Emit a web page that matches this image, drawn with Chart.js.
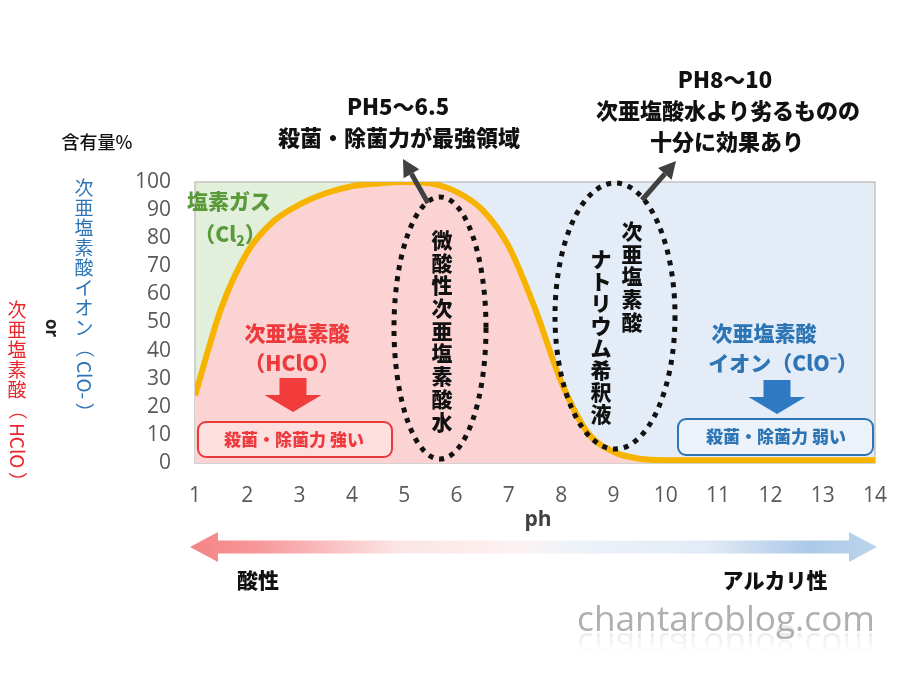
<!DOCTYPE html>
<html>
<head>
<meta charset="utf-8">
<script src="https://cdn.jsdelivr.net/npm/chart.js@4.4.1/dist/chart.umd.min.js"></script>
<style>
  body { margin: 0; background: #fff; }
  #chartSpace { width: 900px; height: 700px; }
</style>
</head>
<body>
<div id="chartSpace"><canvas id="c" width="900" height="700"></canvas></div>
<script>
// values
const phValues    = [1, 1.5, 2, 2.5, 3, 3.5, 4, 4.5, 5, 5.5, 6, 6.5, 7, 7.5, 8, 8.5, 9, 9.5, 10, 11, 12, 13, 14];
const hcloPercent = [24, 55, 75, 86, 92, 96, 98.5, 99.5, 100, 99.5, 96.5, 90, 77, 55, 29, 11, 4, 1.5, 1, 1, 1, 1, 1];
const cl2Zone = [1, 5];     // 塩素ガス side (above curve)
const cloZone = [5, 14];    // 次亜塩素酸イオン side (above curve)
const zoneTop = 100;

const JP = '"Noto Sans CJK JP", sans-serif';
const NUM = '"Open Sans", sans-serif';
const HEAVY = '900 ';

function toPoints(xs, ys) {
  return xs.map((x, i) => ({ x: x, y: Array.isArray(ys) ? ys[i] : ys }));
}

// vertical text: CJK upright, latin runs and brackets turned 90deg
function drawVertical(ctx, text, x, y, pitch) {
  let cy = y;
  const runs = text.match(/[\x21-\x7e\u207b]+|./g);
  ctx.textAlign = 'center';
  ctx.textBaseline = 'middle';
  runs.forEach(r => {
    if (/^[\x21-\x7e\u207b（）]/.test(r)) {
      const len = (r === '（' || r === '）') ? pitch : ctx.measureText(r).width + 6;
      ctx.save();
      ctx.translate(x, cy - pitch / 2 + len / 2);
      ctx.rotate(Math.PI / 2);
      ctx.fillText(r, 0, 0);
      ctx.restore();
      cy += len;
    } else {
      ctx.fillText(r, x, cy);
      cy += pitch;
    }
  });
}

function lineArrow(ctx, x1, y1, x2, y2, color) {
  const a = Math.atan2(y2 - y1, x2 - x1);
  const head = 17, hw = 9;
  const bx = x2 - Math.cos(a) * head, by = y2 - Math.sin(a) * head;
  ctx.strokeStyle = color;
  ctx.fillStyle = color;
  ctx.lineWidth = 5;
  ctx.beginPath();
  ctx.moveTo(x1, y1);
  ctx.lineTo(bx, by);
  ctx.stroke();
  ctx.beginPath();
  ctx.moveTo(x2, y2);
  ctx.lineTo(bx + Math.sin(a) * hw, by - Math.cos(a) * hw);
  ctx.lineTo(bx - Math.sin(a) * hw, by + Math.cos(a) * hw);
  ctx.closePath();
  ctx.fill();
}

function blockDown(ctx, cx, top, color) {
  const sw = 27, sh = 17, hw = 57, hh = 17;
  ctx.fillStyle = color;
  ctx.beginPath();
  ctx.moveTo(cx - sw / 2, top);
  ctx.lineTo(cx + sw / 2, top);
  ctx.lineTo(cx + sw / 2, top + sh);
  ctx.lineTo(cx + hw / 2, top + sh);
  ctx.lineTo(cx, top + sh + hh);
  ctx.lineTo(cx - hw / 2, top + sh);
  ctx.lineTo(cx - sw / 2, top + sh);
  ctx.closePath();
  ctx.fill();
}

function dottedEllipse(ctx, cx, cy, rx, ry) {
  ctx.save();
  ctx.strokeStyle = '#111';
  ctx.lineWidth = 5;
  ctx.setLineDash([5, 6]);
  ctx.beginPath();
  ctx.ellipse(cx, cy, rx, ry, 0, 0, Math.PI * 2);
  ctx.stroke();
  ctx.restore();
}

function box(ctx, x, y, w, h, stroke, fill) {
  ctx.beginPath();
  ctx.roundRect(x, y, w, h, 8);
  ctx.fillStyle = fill;
  ctx.fill();
  ctx.lineWidth = 2;
  ctx.strokeStyle = stroke;
  ctx.stroke();
}

function text(ctx, str, x, y, font, color) {
  ctx.font = font;
  ctx.fillStyle = color;
  ctx.textAlign = 'center';
  ctx.textBaseline = 'middle';
  ctx.fillText(str, x, y);
}

const frame = {
  id: 'frame',
  afterDatasetDraw(chart, args) {
    if (args.index !== 1) return;
    const a = chart.chartArea, ctx = chart.ctx;
    ctx.save();
    ctx.strokeStyle = '#c4c4c4';
    ctx.lineWidth = 1.5;
    ctx.strokeRect(a.left, a.top, a.right - a.left, a.bottom - a.top);
    ctx.restore();
  }
};

const notes = {
  id: 'notes',
  afterDraw(chart) {
    const ctx = chart.ctx;
    ctx.save();

    // axis captions
    text(ctx, '含有量%', 97, 142, '500 18px ' + JP, '#111');
    ctx.font = '19px ' + JP;
    ctx.fillStyle = '#2e75b6';
    drawVertical(ctx, '次亜塩素酸イオン（ClO-）', 84, 188, 20);
    ctx.fillStyle = '#e8262d';
    drawVertical(ctx, '次亜塩素酸（HClO）', 17, 310, 20);
    ctx.save();
    ctx.translate(51, 328);
    ctx.rotate(Math.PI / 2);
    text(ctx, 'or', 0, 0, 'bold 17px ' + NUM, '#222');
    ctx.restore();
    text(ctx, 'ph', 538, 520, 'bold 21px ' + NUM, '#404040');

    // 塩素ガス
    const green = '#5a9a3a';
    text(ctx, '塩素ガス', 229, 201, HEAVY + '21px ' + JP, green);
    const p1 = '（Cl', p2 = '）';
    ctx.font = HEAVY + '14px ' + JP;
    const wSub = ctx.measureText('2').width;
    ctx.font = HEAVY + '21px ' + JP;
    const w1 = ctx.measureText(p1).width, w2 = ctx.measureText(p2).width;
    const sx = 230 - (w1 + wSub + w2) / 2;
    ctx.textAlign = 'left';
    ctx.fillText(p1, sx, 234);
    ctx.font = HEAVY + '14px ' + JP;
    ctx.fillText('2', sx + w1, 241);
    ctx.font = HEAVY + '21px ' + JP;
    ctx.fillText(p2, sx + w1 + wSub, 234);

    // 次亜塩素酸 (HClO)
    const red = '#ee3a3c';
    text(ctx, '次亜塩素酸', 297, 333, HEAVY + '21px ' + JP, red);
    text(ctx, '（HClO）', 292, 363, HEAVY + '21px ' + JP, red);
    blockDown(ctx, 293, 378, '#f23b3b');
    box(ctx, 198, 422, 194, 35, '#e8393b', 'rgba(255,235,235,0.5)');
    text(ctx, '殺菌・除菌力 強い', 294, 440, HEAVY + '17px ' + JP, red);

    // 次亜塩素酸イオン (ClO-)
    const blue = '#2e75b6';
    text(ctx, '次亜塩素酸', 764, 333, HEAVY + '21px ' + JP, blue);
    text(ctx, 'イオン（ClO⁻）', 783, 363, HEAVY + '21px ' + JP, blue);
    blockDown(ctx, 777, 380, '#2f78c2');
    box(ctx, 678, 419, 195, 36, blue, 'rgba(240,246,252,0.6)');
    text(ctx, '殺菌・除菌力 弱い', 776, 437, HEAVY + '17px ' + JP, blue);

    // dotted ellipses with vertical labels
    dottedEllipse(ctx, 440, 328, 46, 131);
    dottedEllipse(ctx, 615, 316, 60, 133);
    ctx.font = HEAVY + '21px ' + JP;
    ctx.fillStyle = '#111';
    drawVertical(ctx, '微酸性次亜塩素酸水', 442, 240, 22.7);
    drawVertical(ctx, '次亜塩素酸', 632, 231, 22.7);
    drawVertical(ctx, 'ナトリウム希釈液', 601, 259, 22.2);

    // pointer arrows and captions
    lineArrow(ctx, 428, 203, 403, 159, '#404040');
    lineArrow(ctx, 642, 200, 676, 161, '#404040');
    text(ctx, 'PH5～6.5', 398, 107, HEAVY + '22px ' + JP, '#111');
    text(ctx, '殺菌・除菌力が最強領域', 399, 138, HEAVY + '22px ' + JP, '#111');
    text(ctx, 'PH8～10', 725, 80, HEAVY + '22px ' + JP, '#111');
    text(ctx, '次亜塩酸水より劣るものの', 728, 111, HEAVY + '22px ' + JP, '#111');
    text(ctx, '十分に効果あり', 727, 142, HEAVY + '22px ' + JP, '#111');

    // acid / alkali gradient arrow
    const ax1 = 190, ax2 = 877, ay = 547, head = 28, hh = 15, sh = 6.5;
    const g = ctx.createLinearGradient(ax1, 0, ax2, 0);
    g.addColorStop(0, '#f58484');
    g.addColorStop(0.1, '#f6989a');
    g.addColorStop(0.3, '#fce4e4');
    g.addColorStop(0.48, '#fdf2f2');
    g.addColorStop(0.55, '#eef3f9');
    g.addColorStop(0.75, '#e2ebf6');
    g.addColorStop(0.9, '#acc9e8');
    g.addColorStop(1, '#bcd4ed');
    ctx.fillStyle = g;
    ctx.beginPath();
    ctx.moveTo(ax1, ay);
    ctx.lineTo(ax1 + head, ay - hh);
    ctx.lineTo(ax1 + head, ay - sh);
    ctx.lineTo(ax2 - head, ay - sh);
    ctx.lineTo(ax2 - head, ay - hh);
    ctx.lineTo(ax2, ay);
    ctx.lineTo(ax2 - head, ay + hh);
    ctx.lineTo(ax2 - head, ay + sh);
    ctx.lineTo(ax1 + head, ay + sh);
    ctx.lineTo(ax1 + head, ay + hh);
    ctx.closePath();
    ctx.fill();
    text(ctx, '酸性', 258, 580, HEAVY + '21px ' + JP, '#111');
    text(ctx, 'アルカリ性', 775, 580, HEAVY + '21px ' + JP, '#111');

    // watermark with faint reflection
    ctx.font = '34px ' + NUM;
    const wm = 'chantaroblog.com';
    const size = 34 * 298 / ctx.measureText(wm).width;
    ctx.font = size + 'px ' + NUM;
    ctx.textAlign = 'center';
    ctx.textBaseline = 'alphabetic';
    ctx.fillStyle = '#b0b0b0';
    ctx.fillText(wm, 726, 631);
    ctx.save();
    ctx.translate(0, 1262 + 2);
    ctx.scale(1, -1);
    const rg = ctx.createLinearGradient(0, 631, 0, 611);
    rg.addColorStop(0, 'rgba(176,176,176,0.25)');
    rg.addColorStop(1, 'rgba(176,176,176,0)');
    ctx.fillStyle = rg;
    ctx.fillText(wm, 726, 631);
    ctx.restore();

    ctx.restore();
  }
};

new Chart(document.getElementById('c'), {
  type: 'line',
  data: {
    datasets: [{
      label: 'HClO',
      data: toPoints(phValues, hcloPercent),
      borderColor: '#f6b400',
      borderWidth: 6,
      backgroundColor: '#fcd3d3',
      fill: 'origin',
      pointRadius: 0,
      cubicInterpolationMode: 'monotone'
    }, {
      label: 'Cl2',
      data: toPoints(cl2Zone, zoneTop),
      borderWidth: 0,
      borderColor: 'rgba(0,0,0,0)',
      backgroundColor: '#e2efda',
      fill: 'origin',
      pointRadius: 0
    }, {
      label: 'ClO-',
      data: toPoints(cloZone, zoneTop),
      borderWidth: 0,
      borderColor: 'rgba(0,0,0,0)',
      backgroundColor: '#e3ecf7',
      fill: 'origin',
      pointRadius: 0
    }]
  },
  options: {
    responsive: false,
    animation: false,
    layout: { padding: { left: 0, right: 25, top: 182, bottom: 0 } },
    plugins: { legend: { display: false }, tooltip: { enabled: false } },
    scales: {
      x: {
        type: 'linear',
        min: 1,
        max: 14,
        grid: { display: false, drawTicks: false },
        border: { display: false },
        ticks: { stepSize: 1, autoSkip: false, maxRotation: 0, color: '#595959', padding: 20, font: { family: 'Open Sans', size: 21 } },
        afterFit: s => { s.height = 237; s.paddingRight = 0; s.paddingLeft = 0; }
      },
      y: {
        min: 0,
        max: 100,
        grid: { display: false, drawTicks: false },
        border: { display: false },
        ticks: { stepSize: 10, autoSkip: false, color: '#595959', padding: 24, font: { family: 'Open Sans', size: 21 } },
        afterFit: s => { s.width = 195; }
      }
    }
  },
  plugins: [frame, notes]
});
</script>
</body>
</html>
